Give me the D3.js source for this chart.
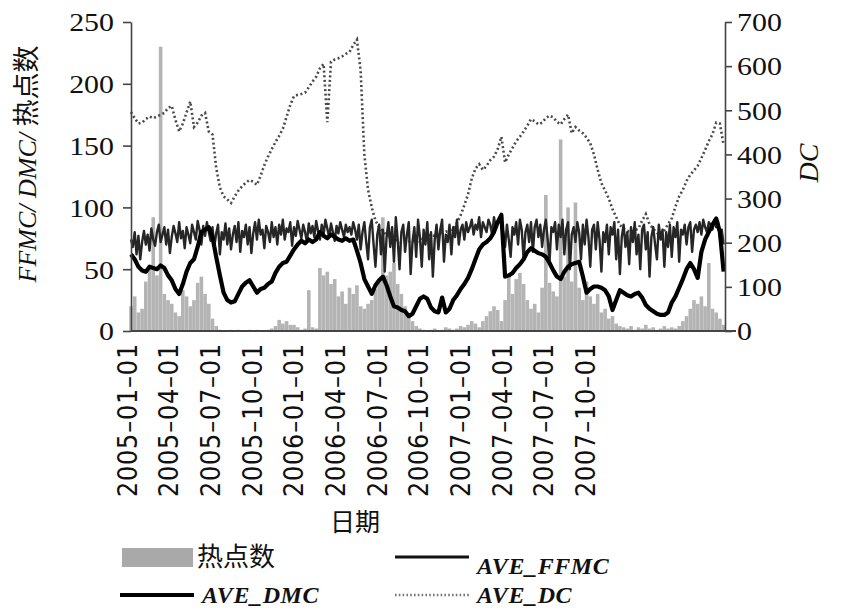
<!DOCTYPE html>
<html>
<head>
<meta charset="utf-8">
<script src="https://cdn.jsdelivr.net/npm/d3@7"></script>
<style>
body { margin: 0; background: #fff; }
svg { display: block; }
</style>
</head>
<body>
<svg id="chart" width="842" height="614"></svg>
<script>
// x labels, one every 90 records
const tickLabels = ['2005-01-01', '2005-04-01', '2005-07-01', '2005-10-01', '2006-01-01', '2006-04-01',
  '2006-07-01', '2006-10-01', '2007-01-01', '2007-04-01', '2007-07-01', '2007-10-01'];
const leftTicks = [0, 50, 100, 150, 200, 250];
const rightTicks = [0, 100, 200, 300, 400, 500, 600, 700];
// hotspots, DMC, DC: one value every 8 records; FFMC: every 4 records
const step = 8;
const stepF = 4;
const hotspots = [20, 28, 15, 18, 40, 52, 92, 45, 230, 30, 25, 22, 15, 12, 33, 28, 20, 25, 39, 44,
  30, 22, 10, 4, 1, 0, 0, 1, 0, 1, 0, 0, 1, 0, 1, 0, 0, 1, 2, 4,
  9, 6, 8, 5, 5, 3, 1, 2, 33, 3, 2, 51, 45, 48, 38, 42, 28, 32, 22, 35,
  30, 37, 20, 18, 22, 25, 34, 40, 92, 45, 48, 55, 38, 30, 20, 12, 8, 4, 2, 1,
  0, 1, 2, 0, 1, 3, 2, 1, 2, 4, 3, 5, 8, 6, 3, 8, 12, 16, 20, 17,
  8, 25, 44, 30, 42, 47, 38, 25, 18, 22, 15, 35, 110, 39, 32, 28, 155, 44, 100, 40,
  104, 35, 25, 40, 28, 22, 30, 15, 18, 10, 12, 6, 4, 3, 2, 4, 1, 3, 2, 5,
  2, 3, 1, 2, 4, 2, 3, 2, 4, 8, 12, 18, 25, 22, 28, 20, 55, 18, 15, 10, 5];
const ffmc = [74, 68, 80, 62, 77, 58, 72, 81, 70, 78, 65, 83, 74, 69, 80, 86, 72, 78, 84, 70,
  82, 63, 76, 85, 79, 72, 88, 75, 81, 67, 84, 78, 71, 86, 80, 74, 89, 82, 70, 85,
  77, 88, 80, 73, 84, 68, 79, 86, 62, 80, 74, 87, 70, 83, 66, 78, 85, 72, 88, 64,
  81, 76, 86, 70, 84, 63, 79, 88, 74, 90, 78, 82, 67, 85, 80, 72, 88, 76, 84, 70,
  86, 78, 90, 74, 83, 80, 88, 69, 84, 77, 89, 82, 75, 86, 80, 72, 87, 79, 85, 76,
  89, 81, 74, 86, 78, 90, 83, 76, 87, 80, 73, 85, 79, 88, 82, 76, 86, 80, 84, 78,
  88, 82, 74, 86, 66, 80, 88, 72, 58, 84, 90, 70, 52, 78, 86, 62, 82, 48, 76, 88,
  68, 84, 56, 92, 74, 50, 80, 86, 64, 78, 88, 46, 72, 84, 60, 90, 76, 52, 82, 70,
  88, 58, 80, 44, 74, 86, 66, 82, 90, 56, 78, 72, 86, 62, 84, 76, 90, 70, 82, 86,
  74, 88, 80, 84, 90, 78, 86, 82, 92, 76, 88, 84, 80, 90, 86, 78, 92, 84, 88, 90,
  86, 80, 68, 86, 74, 60, 84, 78, 88, 70, 90, 82, 58, 80, 86, 72, 88, 64, 84, 90,
  76, 86, 68, 82, 90, 74, 56, 84, 80, 88, 66, 86, 76, 90, 62, 82, 88, 50, 78, 84,
  72, 88, 80, 58, 86, 70, 90, 76, 52, 82, 86, 66, 88, 74, 48, 80, 72, 86, 62, 84,
  78, 88, 58, 82, 46, 76, 86, 68, 80, 54, 84, 72, 88, 62, 78, 50, 82, 86, 66, 80,
  44, 76, 84, 70, 58, 86, 74, 82, 52, 80, 68, 86, 60, 84, 76, 88, 56, 82, 78, 86,
  70, 84, 88, 64, 82, 86, 80, 88, 78, 90, 84, 80, 88, 86, 82, 90, 84, 88, 76, 82, 70];
const dmc = [62, 58, 52, 49, 48, 52, 51, 50, 53, 51, 45, 41, 34, 30, 38, 48, 55, 58, 68, 80,
  82, 84, 76, 60, 45, 31, 25, 23, 24, 30, 36, 39, 41, 36, 31, 34, 35, 38, 40, 47,
  52, 55, 56, 61, 66, 70, 73, 71, 74, 72, 74, 80, 77, 75, 78, 76, 74, 73, 75, 73,
  74, 65, 55, 42, 36, 30, 37, 41, 44, 37, 28, 20, 19, 17, 16, 12, 14, 20, 26, 28,
  26, 19, 16, 15, 27, 15, 18, 25, 29, 34, 38, 43, 50, 58, 66, 70, 72, 75, 80, 88,
  94, 44, 45, 47, 51, 54, 58, 64, 67, 65, 63, 62, 60, 55, 49, 44, 42, 48, 52, 54,
  55, 56, 44, 31, 34, 36, 36, 35, 33, 28, 17, 25, 33, 31, 29, 28, 30, 31, 27, 21,
  18, 16, 14, 13, 13, 15, 23, 28, 35, 42, 50, 55, 50, 43, 64, 74, 80, 86, 91, 80, 48];
const dc = [496, 482, 470, 472, 480, 486, 482, 486, 490, 494, 505, 510, 478, 452, 470, 495, 520, 462, 472, 488,
  494, 452, 445, 370, 325, 305, 298, 290, 305, 318, 328, 336, 342, 338, 331, 352, 376, 395, 412, 428,
  442, 458, 485, 512, 532, 535, 537, 540, 552, 565, 576, 595, 605, 473, 610, 615, 618, 622, 628, 632,
  648, 660, 590, 400, 320, 280, 250, 235, 225, 218, 212, 208, 205, 200, 198, 202, 205, 200, 208, 212,
  215, 218, 215, 220, 222, 225, 228, 232, 245, 262, 285, 310, 345, 368, 378, 365, 374, 387, 395, 412,
  440, 382, 400, 415, 430, 440, 452, 465, 480, 475, 468, 472, 482, 488, 484, 474, 468, 480, 490, 448,
  462, 454, 448, 438, 425, 400, 365, 335, 318, 300, 276, 258, 240, 232, 227, 224, 228, 232, 250, 265,
  242, 232, 222, 218, 228, 242, 255, 282, 305, 320, 340, 354, 364, 374, 392, 410, 430, 446, 472, 470, 421];

const svg = d3.select('#chart');
const serif = '"Liberation Serif", Tinos, serif';
const cjk = '"Noto Sans CJK SC", sans-serif';

const x = d3.scaleLinear().domain([0, 1283]).range([131, 725]);
const yL = d3.scaleLinear().domain([0, 250]).range([331, 22]);
const yR = d3.scaleLinear().domain([0, 700]).range([331, 22]);

// hotspot bars
svg.append('g').selectAll('rect')
  .data(hotspots)
  .join('rect')
  .attr('x', (d, i) => x(i * step) - 1.8)
  .attr('width', 3.6)
  .attr('y', d => yL(d))
  .attr('height', d => yL(0) - yL(d))
  .attr('fill', '#b4b4b4');

const lineL = d3.line().x((d, i) => x(i * step)).y(d => yL(d));
const lineF = d3.line().x((d, i) => x(i * stepF)).y(d => yL(d));
const lineR = d3.line().x((d, i) => x(i * step)).y(d => yR(d));

svg.append('path').datum(dc)
  .attr('d', lineR)
  .attr('fill', 'none')
  .attr('stroke', '#4a4a4a')
  .attr('stroke-width', 2.6)
  .attr('stroke-dasharray', '2,2.6');

svg.append('path').datum(ffmc)
  .attr('d', lineF)
  .attr('fill', 'none')
  .attr('stroke', '#262626')
  .attr('stroke-width', 2.4)
  .attr('stroke-linejoin', 'round');

svg.append('path').datum(dmc)
  .attr('d', lineL)
  .attr('fill', 'none')
  .attr('stroke', '#000')
  .attr('stroke-width', 4.2)
  .attr('stroke-linejoin', 'round');

// left axis
const gL = svg.append('g')
  .attr('transform', 'translate(131,0)')
  .call(d3.axisLeft(yL).tickValues(leftTicks).tickSize(8).tickSizeOuter(0).tickPadding(0));
gL.attr('font-family', null);
gL.selectAll('text')
  .attr('x', 0)
  .attr('dy', '0.34em')
  .attr('transform', 'translate(-17,0) scale(1.15,1)')
  .attr('font-family', serif)
  .attr('font-size', 26)
  .attr('fill', '#111');

// right axis
const gR = svg.append('g')
  .attr('transform', 'translate(725,0)')
  .call(d3.axisRight(yR).tickValues(rightTicks).tickSize(7).tickSizeOuter(0).tickPadding(0));
gR.attr('font-family', null);
gR.selectAll('text')
  .attr('x', 0)
  .attr('dy', '0.34em')
  .attr('transform', 'translate(12,0) scale(1.15,1)')
  .attr('font-family', serif)
  .attr('font-size', 26)
  .attr('fill', '#111');

// bottom axis
const gB = svg.append('g')
  .attr('transform', 'translate(0,331)')
  .call(d3.axisBottom(x)
    .tickValues(tickLabels.map((d, i) => i * 90))
    .tickFormat((d, i) => tickLabels[i].replace(/-/g, '\u2013'))
    .tickSize(0).tickSizeOuter(0));
gB.select('.domain').remove();
gB.selectAll('text')
  .attr('x', 0).attr('y', 0)
  .attr('dy', '0.2em')
  .attr('text-anchor', 'end')
  .attr('transform', 'translate(0,12) scale(1.1,1) rotate(-90)')
  .attr('font-family', '"DejaVu Sans", sans-serif')
  .attr('font-size', 24)
  .style('letter-spacing', '0.8px')
  .attr('fill', '#111');
svg.append('line')
  .attr('x1', 131).attr('x2', 736).attr('y1', 331).attr('y2', 331)
  .attr('stroke', '#444').attr('stroke-width', 2);

svg.selectAll('.domain, .tick line').attr('stroke', '#444').attr('stroke-width', 1.6);

// axis titles
const tL = svg.append('text')
  .attr('transform', 'translate(36,164) rotate(-90)')
  .attr('text-anchor', 'middle')
  .attr('fill', '#111');
tL.append('tspan').text('FFMC/ DMC/ ')
  .attr('font-family', serif).attr('font-style', 'italic').attr('font-size', 26);
tL.append('tspan').text('热点数')
  .attr('font-family', cjk).attr('font-size', 27);

svg.append('text')
  .attr('transform', 'translate(818,163) rotate(-90)')
  .attr('text-anchor', 'middle')
  .attr('font-family', serif).attr('font-style', 'italic').attr('font-size', 28)
  .attr('fill', '#111')
  .text('DC');

svg.append('text')
  .attr('x', 355).attr('y', 531)
  .attr('text-anchor', 'middle')
  .attr('font-family', cjk).attr('font-size', 25)
  .attr('fill', '#111')
  .text('日期');

// legend
const legend = svg.append('g');
legend.append('rect')
  .attr('x', 122).attr('y', 548).attr('width', 71).attr('height', 19)
  .attr('fill', '#a9a9a9');
legend.append('text')
  .attr('x', 197).attr('y', 566)
  .attr('font-family', cjk).attr('font-size', 26).attr('fill', '#111')
  .text('热点数');

const legItems = [
  {label: 'AVE_FFMC', x: 395, y: 557, ty: 574, color: '#111', w: 3, dash: null},
  {label: 'AVE_DMC', x: 120, y: 595, ty: 603, color: '#000', w: 4, dash: null},
  {label: 'AVE_DC', x: 395, y: 595, ty: 603, color: '#777', w: 2.4, dash: '1.6,2.2'}
];
legItems.forEach(d => {
  legend.append('line')
    .attr('x1', d.x).attr('x2', d.x + 74)
    .attr('y1', d.y).attr('y2', d.y)
    .attr('stroke', d.color).attr('stroke-width', d.w)
    .attr('stroke-dasharray', d.dash);
  legend.append('text')
    .attr('x', d.x + 82).attr('y', d.ty)
    .attr('font-family', serif).attr('font-style', 'italic').attr('font-weight', 'bold')
    .attr('font-size', 24).style('letter-spacing', '0.6px')
    .attr('fill', '#111')
    .text(d.label);
});
</script>
</body>
</html>
